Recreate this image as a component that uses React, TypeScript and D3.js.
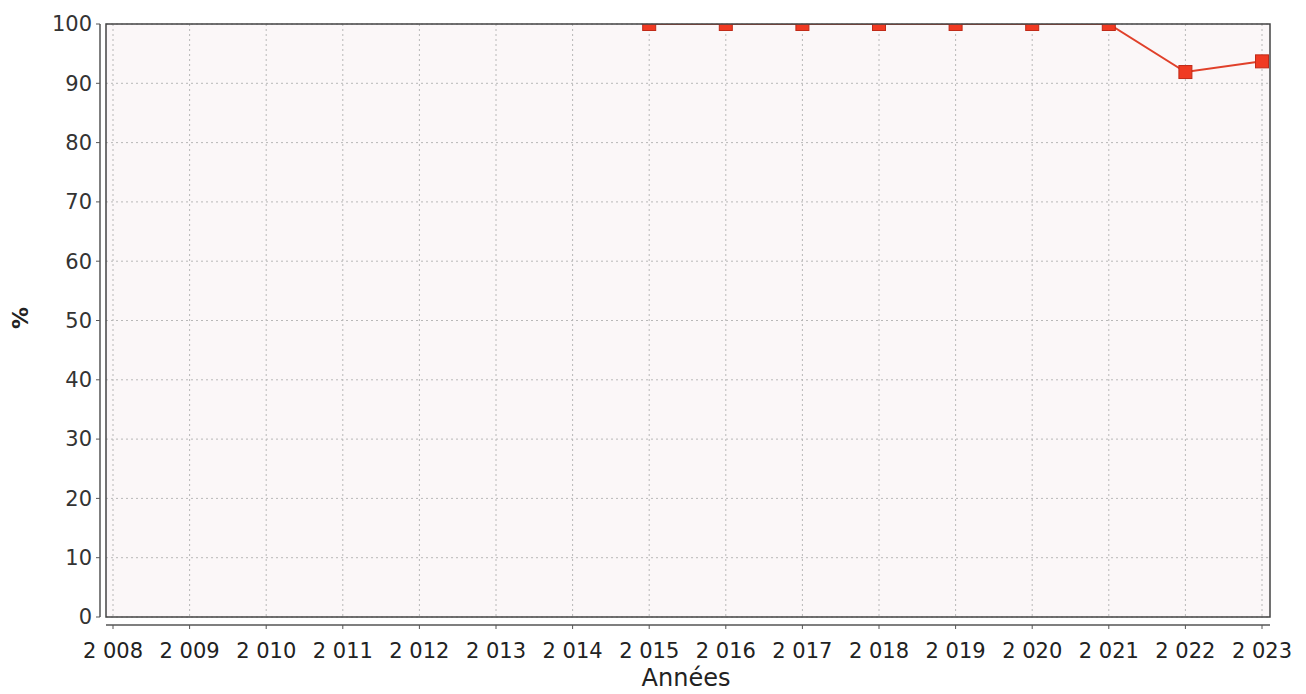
import React from "react";
import * as d3 from "d3";

const years = [2008, 2009, 2010, 2011, 2012, 2013, 2014, 2015, 2016, 2017, 2018, 2019, 2020, 2021, 2022, 2023];
const dataYears = [2015, 2016, 2017, 2018, 2019, 2020, 2021, 2022, 2023];
const dataValues = [100, 100, 100, 100, 100, 100, 100, 91.9, 93.7];
const yTicks = [0, 10, 20, 30, 40, 50, 60, 70, 80, 90, 100];
const xLabels = years.map((y) => "2 " + String(y).slice(1));

const W = 1306, H = 694;
const plot = { left: 106, right: 1270, top: 24, bottom: 617 };

export default function App() {
  const x = d3.scaleLinear().domain([2008, 2023]).range([113, 1262]);
  const y = d3.scaleLinear().domain([0, 100]).range([plot.bottom, plot.top]);
  const line = d3.line<number>().x((_, i) => x(dataYears[i])).y((v) => y(v));
  const font = "'DejaVu Sans', sans-serif";
  return (
    <svg width={W} height={H} style={{ position: "absolute", left: 0, top: 0, background: "#fff" }}>
      <defs>
        <clipPath id="plotClip">
          <rect x={plot.left} y={plot.top} width={plot.right - plot.left} height={plot.bottom - plot.top} />
        </clipPath>
      </defs>
      <rect x={plot.left} y={plot.top} width={plot.right - plot.left} height={plot.bottom - plot.top} fill="#fbf7f8" />
      {years.map((yr) => (
        <line key={"gx" + yr} x1={x(yr)} x2={x(yr)} y1={plot.top} y2={plot.bottom} stroke="#b8b8b8" strokeDasharray="2,3" strokeWidth={1} />
      ))}
      {yTicks.map((t) => (
        <line key={"gy" + t} x1={plot.left} x2={plot.right} y1={y(t)} y2={y(t)} stroke="#b8b8b8" strokeDasharray="2,3" strokeWidth={1} />
      ))}
      <g clipPath="url(#plotClip)">
        <path d={line(dataValues) || ""} fill="none" stroke="#e0402a" strokeWidth={2} />
        {dataValues.map((v, i) => (
          <rect key={"m" + i} x={x(dataYears[i]) - 6.5} y={y(v) - 6.5} width={13} height={13} fill="#f03a22" stroke="#c02a18" strokeWidth={1} />
        ))}
      </g>
      <rect x={plot.left} y={plot.top} width={plot.right - plot.left} height={plot.bottom - plot.top} fill="none" stroke="#444" strokeWidth={1.5} />
      {/* y axis */}
      <line x1={100} x2={100} y1={y(100)} y2={y(0)} stroke="#555" strokeWidth={1.5} />
      {yTicks.map((t) => (
        <g key={"ty" + t}>
          <line x1={96} x2={100} y1={y(t)} y2={y(t)} stroke="#555" />
          <text x={92} y={y(t)} dy="0.35em" textAnchor="end" fontFamily={font} fontSize={21} fill="#333">{t}</text>
        </g>
      ))}
      {/* x axis */}
      <line x1={plot.left} x2={plot.right} y1={625} y2={625} stroke="#555" strokeWidth={1.5} />
      {years.map((yr, i) => (
        <g key={"tx" + yr}>
          <line x1={x(yr)} x2={x(yr)} y1={625} y2={629} stroke="#555" />
          <text x={x(yr)} y={651} dy="0.35em" textAnchor="middle" fontFamily={font} fontSize={21} fill="#222">{xLabels[i]}</text>
        </g>
      ))}
      <text x={686} y={686} textAnchor="middle" fontFamily={font} fontSize={24} fill="#222">Années</text>
      <text transform={`translate(20,318) rotate(-90)`} textAnchor="middle" dy="0.35em" fontFamily={font} fontSize={22} fontWeight="bold" fill="#222">%</text>
    </svg>
  );
}
